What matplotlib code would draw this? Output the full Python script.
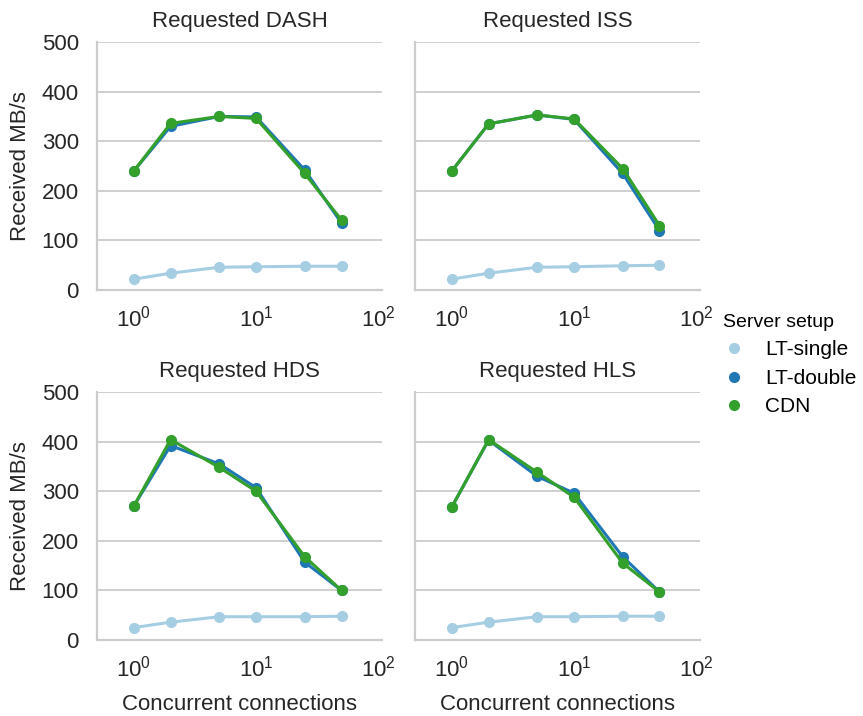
import numpy as np
import matplotlib
matplotlib.use("Agg")
import matplotlib.pyplot as plt
from matplotlib.lines import Line2D

connections = [1, 2, 5, 10, 25, 50]
setups = ["LT-single", "LT-double", "CDN"]
colors = ["#a6cee3", "#1f78b4", "#33a02c"]
panels = ["Requested DASH", "Requested ISS", "Requested HDS", "Requested HLS"]

dash_single = [22, 34, 46, 47, 48, 48]
dash_double = [240, 330, 350, 349, 242, 135]
dash_cdn = [240, 336, 350, 346, 235, 141]

iss_single = [22, 34, 46, 47, 49, 50]
iss_double = [240, 335, 353, 344, 235, 120]
iss_cdn = [240, 335, 353, 345, 245, 130]

hds_single = [25, 36, 47, 47, 47, 48]
hds_double = [270, 392, 355, 307, 157, 100]
hds_cdn = [270, 404, 348, 300, 168, 100]

hls_single = [25, 36, 47, 47, 48, 48]
hls_double = [268, 403, 330, 296, 168, 97]
hls_cdn = [268, 404, 338, 288, 155, 97]

# small error bars visible on a few points
hds_double_err = [0, 4, 4, 6, 3, 0]
hds_cdn_err = [0, 3, 4, 8, 4, 0]
hls_double_err = [0, 2, 5, 9, 4, 0]
hls_cdn_err = [0, 2, 3, 4, 3, 0]
zero_err = [0, 0, 0, 0, 0, 0]

data = {
    "Requested DASH": ([dash_single, dash_double, dash_cdn], [zero_err, zero_err, zero_err]),
    "Requested ISS": ([iss_single, iss_double, iss_cdn], [zero_err, zero_err, zero_err]),
    "Requested HDS": ([hds_single, hds_double, hds_cdn], [zero_err, hds_double_err, hds_cdn_err]),
    "Requested HLS": ([hls_single, hls_double, hls_cdn], [zero_err, hls_double_err, hls_cdn_err]),
}

text_col = "#262626"
grid_col = "#cccccc"
plt.rcParams["font.family"] = ["Liberation Sans", "DejaVu Sans"]
plt.rcParams["mathtext.fontset"] = "custom"
plt.rcParams["mathtext.rm"] = "Liberation Sans"

fig, axes = plt.subplots(2, 2, figsize=(8.63, 7.16), dpi=100, sharey=True)
fig.subplots_adjust(left=0.1124, right=0.811, top=0.9413, bottom=0.1061,
                    wspace=0.116, hspace=0.411)

for ax, name in zip(axes.flat, panels):
    series, errs = data[name]
    for vals, err, col in zip(series, errs, colors):
        ax.errorbar(connections, vals, yerr=err, color=col, lw=2.2,
                    marker="o", ms=7, elinewidth=2.2, capsize=0, zorder=3)
    ax.set_xscale("log")
    ax.set_xlim(0.5, 107)
    ax.set_ylim(0, 500)
    ax.set_yticks([0, 100, 200, 300, 400, 500])
    ax.minorticks_off()
    ax.yaxis.grid(True, color=grid_col, lw=1.3)
    ax.set_axisbelow(True)
    for s in ["top", "right"]:
        ax.spines[s].set_visible(False)
    for s in ["left", "bottom"]:
        ax.spines[s].set_color(grid_col)
        ax.spines[s].set_linewidth(1.6)
    ax.tick_params(length=0, labelsize=16, colors=text_col)
    ax.tick_params(axis="y", pad=13)
    ax.tick_params(axis="x", pad=11)
    ax.set_title(name, fontsize=16, color=text_col, pad=11)

for ax in axes[:, 0]:
    ax.set_ylabel("Received MB/s", fontsize=16, color=text_col, labelpad=8)
for ax in axes[1, :]:
    ax.set_xlabel("Concurrent connections", fontsize=16, color=text_col, labelpad=9)

handles = [Line2D([], [], ls="none", marker="o", ms=7, color=c) for c in colors]
fig.legend(handles, setups, title="Server setup", loc="center left",
           bbox_to_anchor=(0.838, 0.49), frameon=False, fontsize=15,
           title_fontsize=14, handletextpad=1.0, labelspacing=0.45,
           handlelength=1.0, alignment="left", borderaxespad=0, borderpad=0)

fig.savefig("out.png", dpi=100)
